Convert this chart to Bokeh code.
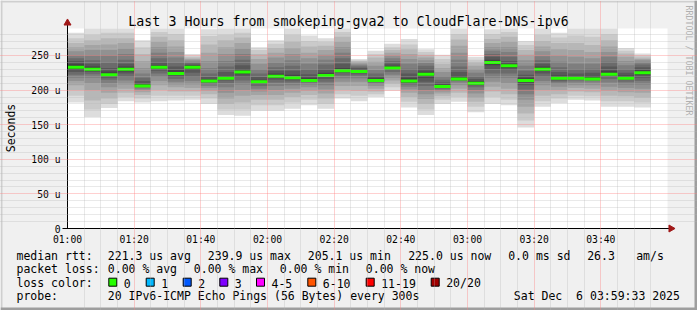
import math
from bokeh.plotting import figure
from bokeh.models import FixedTicker, Range1d, ColumnDataSource, Grid
from bokeh.core.properties import value
from bokeh.embed import file_html
from bokeh.resources import INLINE

# ---------------- data ----------------
title_text = "Last 3 Hours from smokeping-gva2 to CloudFlare-DNS-ipv6"
y_unit_label = "Seconds"
watermark = "RRDTOOL / TOBI OETIKER"
step_minutes = 5
x_tick_minutes = [0, 20, 40, 60, 80, 100, 120, 140, 160]
x_tick_labels = ["01:00", "01:20", "01:40", "02:00", "02:20", "02:40", "03:00", "03:20", "03:40"]
y_tick_values = [0, 50, 100, 150, 200, 250]
y_tick_labels = ["0", "50 u", "100 u", "150 u", "200 u", "250 u"]

# median RTT per 5-minute step (microseconds)
median_rtt = [233, 230, 222, 230, 206, 233, 224, 233, 213, 217, 226, 212,
              220, 218, 214, 221, 228, 227, 214, 232, 213, 223, 205.1, 216,
              210, 239.9, 235, 214, 230, 217, 217, 216, 223, 217, 225.0]

# the 20 sorted ping RTTs per step (microseconds)
pings = [
    [182, 192, 200, 207, 213, 218, 222, 226, 229, 231, 235, 238, 242, 246, 250, 256, 262, 268, 275, 283],
    [161, 172, 185, 200, 210, 218, 223, 226, 228, 229, 231, 234, 238, 243, 250, 258, 265, 272, 280, 289],
    [174, 180, 188, 196, 204, 210, 215, 218, 220, 222, 223, 227, 232, 240, 250, 258, 266, 275, 283, 289],
    [184, 190, 196, 202, 208, 214, 219, 224, 227, 229, 231, 234, 238, 244, 252, 260, 268, 275, 283, 289],
    [182, 188, 193, 197, 200, 202, 204, 205, 206, 206, 207, 209, 213, 218, 224, 232, 242, 252, 262, 272],
    [184, 192, 200, 207, 213, 219, 224, 228, 231, 232, 234, 236, 240, 246, 254, 262, 270, 277, 284, 289],
    [185, 192, 198, 204, 208, 212, 216, 219, 222, 223, 225, 229, 234, 240, 247, 255, 263, 272, 281, 289],
    [186, 192, 198, 203, 208, 213, 219, 225, 229, 232, 234, 236, 237, 239, 241, 243, 245, 247, 249, 252],
    [180, 188, 194, 199, 203, 206, 209, 211, 212, 213, 214, 216, 219, 224, 232, 242, 254, 266, 278, 288],
    [164, 172, 180, 188, 196, 204, 210, 214, 216, 217, 218, 220, 226, 234, 242, 252, 262, 272, 280, 289],
    [163, 172, 182, 192, 200, 208, 214, 219, 223, 225, 227, 230, 236, 244, 252, 260, 268, 276, 283, 289],
    [170, 178, 186, 193, 198, 202, 206, 209, 211, 212, 213, 215, 219, 224, 230, 238, 245, 252, 258, 262],
    [170, 178, 186, 193, 200, 206, 211, 215, 218, 219, 221, 224, 228, 233, 240, 247, 254, 261, 267, 272],
    [173, 182, 190, 196, 202, 207, 211, 214, 216, 217, 219, 222, 228, 235, 243, 252, 261, 270, 280, 289],
    [178, 186, 193, 199, 204, 208, 211, 213, 214, 214, 215, 218, 223, 230, 238, 246, 254, 263, 271, 279],
    [173, 180, 188, 195, 201, 207, 212, 216, 219, 220, 222, 225, 230, 237, 244, 251, 258, 264, 270, 275],
    [188, 194, 200, 206, 212, 217, 221, 225, 227, 228, 229, 232, 238, 246, 254, 262, 270, 277, 284, 289],
    [184, 192, 199, 206, 212, 217, 221, 224, 226, 227, 228, 230, 232, 234, 236, 238, 240, 242, 243, 245],
    [190, 194, 198, 202, 206, 209, 211, 212, 213, 214, 215, 217, 220, 224, 229, 235, 241, 247, 252, 257],
    [199, 204, 209, 214, 218, 222, 226, 229, 231, 232, 233, 235, 238, 242, 246, 250, 254, 258, 262, 267],
    [175, 183, 190, 196, 201, 205, 208, 210, 211, 212, 214, 218, 224, 231, 238, 245, 252, 259, 266, 274],
    [164, 172, 180, 187, 194, 200, 206, 212, 218, 222, 224, 227, 231, 235, 239, 243, 247, 251, 255, 259],
    [180, 186, 191, 195, 198, 200, 202, 203, 204, 205, 206, 208, 211, 215, 220, 226, 232, 238, 245, 251],
    [183, 190, 196, 202, 207, 211, 213, 215, 216, 216, 217, 220, 226, 234, 244, 254, 264, 273, 281, 289],
    [168, 176, 183, 189, 195, 200, 204, 207, 209, 210, 211, 213, 216, 220, 225, 230, 235, 240, 244, 248],
    [180, 190, 198, 205, 212, 218, 224, 230, 236, 239, 241, 244, 248, 252, 257, 262, 268, 274, 281, 288],
    [178, 186, 194, 202, 210, 218, 224, 229, 232, 234, 235, 238, 242, 248, 255, 262, 270, 277, 284, 289],
    [146, 156, 166, 176, 186, 194, 201, 207, 211, 214, 215, 218, 222, 228, 235, 243, 251, 258, 265, 271],
    [176, 184, 192, 200, 207, 213, 219, 224, 228, 230, 231, 234, 238, 243, 249, 256, 263, 271, 280, 289],
    [181, 188, 194, 200, 205, 209, 212, 214, 216, 217, 218, 221, 226, 233, 241, 250, 259, 268, 276, 283],
    [186, 192, 198, 203, 207, 211, 214, 216, 217, 217, 218, 220, 224, 230, 238, 248, 258, 268, 279, 289],
    [185, 191, 197, 202, 207, 211, 214, 215, 216, 216, 217, 220, 225, 231, 238, 246, 255, 265, 277, 289],
    [176, 184, 192, 199, 205, 211, 216, 220, 222, 223, 224, 228, 234, 241, 248, 255, 263, 272, 281, 289],
    [176, 184, 191, 197, 203, 208, 212, 215, 216, 217, 218, 221, 225, 230, 236, 242, 248, 253, 257, 261],
    [175, 182, 189, 196, 202, 208, 213, 218, 222, 225, 226, 229, 233, 237, 240, 243, 245, 247, 250, 253],
]

loss_labels = ["0", "1", "2", "3", "4-5", "6-10", "11-19", "20/20"]
loss_colors = ["#26ff00", "#00b8ff", "#0059ff", "#7e00ff", "#ff00ff", "#ff5500", "#ff0000", "#a00000"]

legend_row1 = ["median rtt:", "221.3 us avg", "239.9 us max", "205.1 us min", "225.0 us now", "0.0 ms sd", "26.3", "am/s"]
legend_row2 = ["packet loss:", "0.00 % avg", "0.00 % max", "0.00 % min", "0.00 % now"]
legend_row3 = ["loss color:"]
legend_row4 = ["probe:", "20 IPv6-ICMP Echo Pings (56 Bytes) every 300s", "Sat Dec \u00a06 03:59:33 2025"]

# ---------------- layout / style ----------------
W, H = 697, 310
AX_X0, AX_Y0 = 67, 228          # canvas pixel of the axes origin
PLOT_W, PLOT_H = 600, 200       # canvas size of the graph area
X_END, Y_END = 180, 289         # data extent of the graph area (minutes, microseconds)
PX_X = PLOT_W / X_END
PX_Y = PLOT_H / Y_END
RAISE = 3.5                     # text baseline correction (px)
MONO = "DejaVu Sans Mono"
BG = "#f0f0f0"
SHADE_LIGHT = "#cfcfcf"
SHADE_DARK = "#9e9e9e"
ARROW = "#a01818"
smoke_grays = ["#dddddd", "#cacaca", "#b7b7b7", "#a4a4a4", "#919191",
               "#7e7e7e", "#6b6b6b", "#585858", "#454545", "#323232"]


def dx(px):
    return (px - AX_X0) / PX_X


def dy(py):
    return (AX_Y0 - py) / PX_Y


def ty_(py):
    # text baseline position (canvas px) -> data
    return dy(py - RAISE)


p = figure(width=W, height=H, x_range=Range1d(dx(0), dx(W)), y_range=Range1d(dy(H), dy(0)),
           x_axis_type=None, y_axis_type=None, output_backend="svg", toolbar_location=None,
           min_border=0, min_border_left=0, min_border_right=0, min_border_top=0, min_border_bottom=0)
p.background_fill_color = BG
p.border_fill_color = BG
p.outline_line_color = None

# white graph canvas
p.quad(left=[0], right=[X_END], bottom=[0], top=[Y_END], fill_color="#ffffff", line_color=None)

# smoke bands: outer (light) first, inner (dark) drawn on top
n = len(pings[0])
half = n // 2
left, right, bottom, top, col = [], [], [], [], []
for j in range(half):
    for i, pv in enumerate(pings):
        left.append(i * step_minutes)
        right.append((i + 1) * step_minutes)
        bottom.append(pv[j])
        top.append(pv[n - 1 - j])
        col.append(smoke_grays[j])
src = ColumnDataSource(dict(left=left, right=right, bottom=bottom, top=top, color=col))
p.quad(left="left", right="right", bottom="bottom", top="top", fill_color="color",
       line_color=None, source=src)

# median line (loss 0 -> green)
msrc = ColumnDataSource(dict(
    x0=[i * step_minutes for i in range(len(median_rtt))],
    x1=[(i + 1) * step_minutes for i in range(len(median_rtt))],
    y=median_rtt))
p.segment(x0="x0", y0="y", x1="x1", y1="y", line_color=loss_colors[0], line_width=3,
          line_cap="butt", source=msrc)

# grids drawn over the smoke, like rrdtool
x_minor = [m for m in range(step_minutes, X_END, step_minutes) if m % 20 != 0]
y_minor = [v for v in range(10, Y_END, 10) if v % 50 != 0]
xgrid = Grid(dimension=0, ticker=FixedTicker(ticks=[t for t in x_tick_minutes if t > 0], minor_ticks=x_minor),
             bounds=(0, Y_END))
ygrid = Grid(dimension=1, ticker=FixedTicker(ticks=[t for t in y_tick_values if t > 0], minor_ticks=y_minor),
             bounds=(0, X_END))
for g in (xgrid, ygrid):
    g.level = "overlay"
    g.grid_line_color = "#ff8080"
    g.grid_line_alpha = 0.75
    g.grid_line_dash = "1 1"
    g.minor_grid_line_color = "#b4b4b4"
    g.minor_grid_line_alpha = 0.6
    g.minor_grid_line_dash = "1 1"
    p.add_layout(g)

# axis lines with arrow heads
p.segment(x0=[dx(62), 0], y0=[0, 0], x1=[dx(669), 0], y1=[0, dy(24)],
          line_color="#000000", line_width=1)
p.scatter(x=[dx(670.5), 0], y=[0, dy(22.5)], marker="triangle", angle=[-math.pi / 2, 0],
          size=7, fill_color=ARROW, line_color=ARROW)

# tick labels
X_LABEL_DROP = (14 - RAISE) / PX_Y    # baseline of time labels below the axis
Y_LABEL_GAP = 7 / PX_X                # gap between value labels and the axis
Y_LABEL_DROP = (4 - RAISE) / PX_Y     # baseline of value labels below their tick
p.text(x=x_tick_minutes, y=[-X_LABEL_DROP] * len(x_tick_minutes), text=x_tick_labels,
       text_font=value(MONO), text_font_size=value("9.7px"), text_align="center",
       text_baseline="alphabetic", text_color="#000000")
p.text(x=[-Y_LABEL_GAP] * len(y_tick_values), y=[v - Y_LABEL_DROP for v in y_tick_values],
       text=y_tick_labels, text_font=value(MONO), text_font_size=value("9.7px"),
       text_align="right", text_baseline="alphabetic", text_color="#000000")

# title, unit label, watermark
p.text(x=[dx(348)], y=[ty_(24)], text=[title_text], text_font=value(MONO),
       text_font_size=value("13.3px"), text_align="center", text_baseline="alphabetic",
       text_color="#000000")
p.text(x=[dx(14 - RAISE)], y=[dy(127.5)], text=[y_unit_label], text_font=value(MONO),
       text_font_size=value("11.5px"), text_align="center", text_baseline="alphabetic",
       text_color="#000000", angle=math.pi / 2)
p.text(x=[dx(685 + RAISE)], y=[dy(60)], text=[watermark], text_font=value(MONO),
       text_font_size=value("8.3px"), text_align="center", text_baseline="alphabetic",
       text_color="#b0b0b0", angle=-math.pi / 2)

# legend
LS = "11.5px"
row1_x = [16, 107.3, 207.3, 307.3, 407.7, 507.7, 586.7, 635.7]
row2_x = [16, 107.3, 193.3, 279.3, 365.3]
row4_x = [16, 107.3, 513.3]
box_x = [108.3, 145.7, 182.7, 219.3, 256.0, 307.3, 365.7, 430.7]
rows_y = [258.7, 272, 286, 299.3]

tx, tyy, tt = [], [], []
for t, x in zip(legend_row1, row1_x):
    tx.append(dx(x)); tyy.append(ty_(rows_y[0])); tt.append(t)
for t, x in zip(legend_row2, row2_x):
    tx.append(dx(x)); tyy.append(ty_(rows_y[1])); tt.append(t)
tx.append(dx(16)); tyy.append(ty_(rows_y[2])); tt.append(legend_row3[0])
for lab, x in zip(loss_labels, box_x):
    tx.append(dx(x + 15)); tyy.append(ty_(rows_y[2])); tt.append(lab)
for t, x in zip(legend_row4, row4_x):
    tx.append(dx(x)); tyy.append(ty_(rows_y[3])); tt.append(t)
p.text(x=tx, y=tyy, text=tt, text_font=value(MONO), text_font_size=value(LS),
       text_align="left", text_baseline="alphabetic", text_color="#000000")

p.quad(left=[dx(x) for x in box_x], right=[dx(x + 8) for x in box_x],
       top=[dy(277.7)] * len(box_x), bottom=[dy(285.7)] * len(box_x),
       fill_color=loss_colors, line_color="#000000", line_width=1)

# 3d frame shades
p.quad(left=[dx(0), dx(0)], right=[dx(W), dx(2)], top=[dy(0), dy(0)], bottom=[dy(2), dy(H)],
       fill_color=SHADE_LIGHT, line_color=None)
p.quad(left=[dx(0), dx(W - 3)], right=[dx(W), dx(W)], top=[dy(H - 3), dy(0)], bottom=[dy(H), dy(H)],
       fill_color=SHADE_DARK, line_color=None)

open("out.html", "w").write(file_html(p, INLINE))
